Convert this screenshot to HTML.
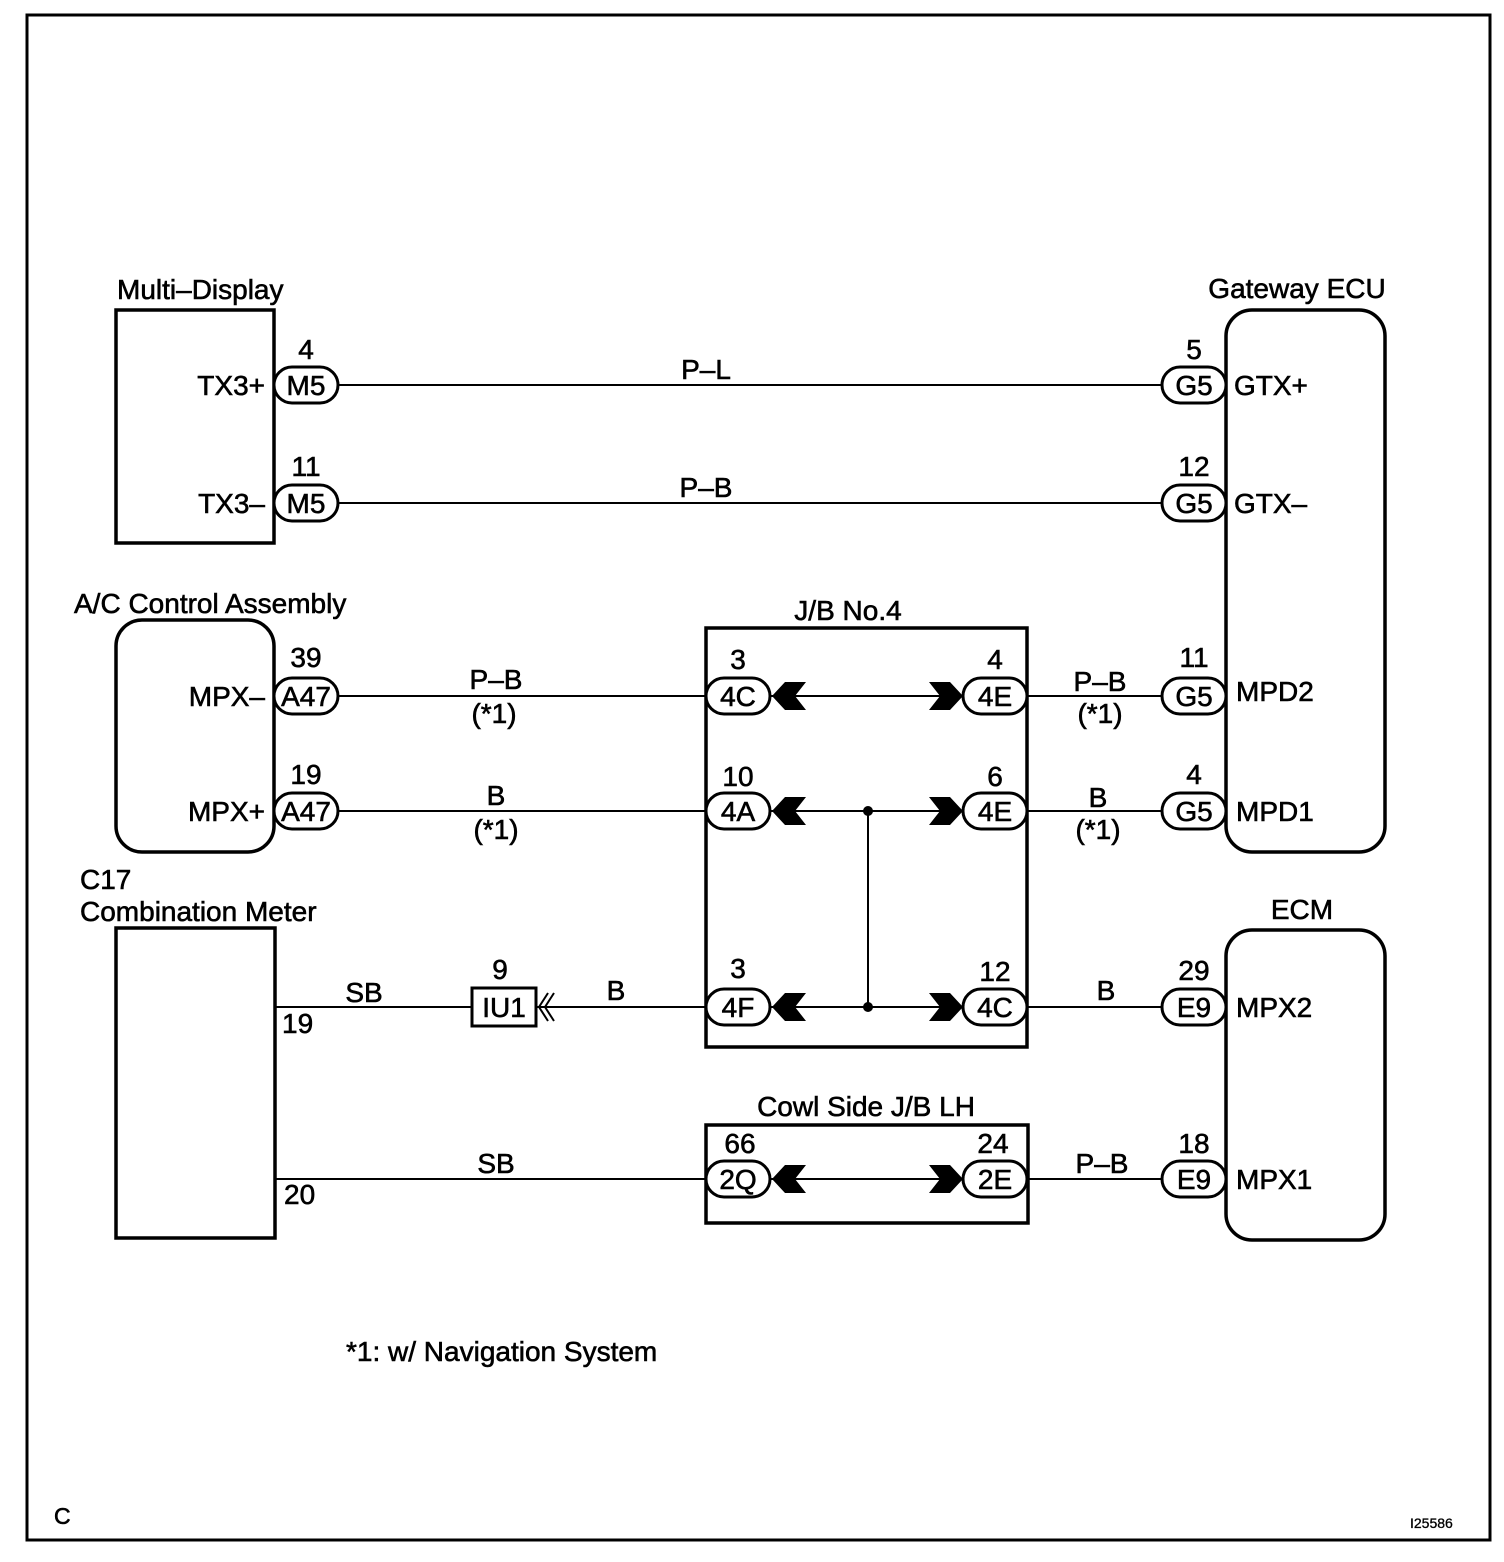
<!DOCTYPE html>
<html><head><style>
html,body{margin:0;padding:0;background:#fff;}
svg{display:block;}
text{font-family:"Liberation Sans",Arial,sans-serif;font-size:28px;fill:#000;stroke:#000;stroke-width:0.6;}
</style></head><body>
<svg width="1504" height="1562" viewBox="0 0 1504 1562" xmlns="http://www.w3.org/2000/svg">
<rect x="27" y="15" width="1463" height="1525" fill="none" stroke="#000" stroke-width="3"/>
<g fill="none" stroke="#000" stroke-width="3.5">
<rect x="116" y="310" width="158" height="233"/>
<rect x="116" y="620" width="158" height="232" rx="26"/>
<rect x="116" y="928" width="159" height="310"/>
<rect x="1226" y="310" width="159" height="542" rx="26"/>
<rect x="1226" y="930" width="159" height="310" rx="26"/>
<rect x="706" y="628" width="321" height="419"/>
<rect x="706" y="1125" width="322" height="98"/>
</g>
<g stroke="#000" stroke-width="2">
<line x1="338" y1="385" x2="1162" y2="385"/>
<line x1="338" y1="503" x2="1162" y2="503"/>
<line x1="338" y1="696" x2="706" y2="696"/>
<line x1="770" y1="696" x2="963" y2="696"/>
<line x1="1027" y1="696" x2="1162" y2="696"/>
<line x1="338" y1="811" x2="706" y2="811"/>
<line x1="770" y1="811" x2="963" y2="811"/>
<line x1="1027" y1="811" x2="1162" y2="811"/>
<line x1="275" y1="1007" x2="472" y2="1007"/>
<line x1="536" y1="1007" x2="706" y2="1007"/>
<line x1="770" y1="1007" x2="963" y2="1007"/>
<line x1="1027" y1="1007" x2="1162" y2="1007"/>
<line x1="275" y1="1179" x2="706" y2="1179"/>
<line x1="770" y1="1179" x2="963" y2="1179"/>
<line x1="1028" y1="1179" x2="1162" y2="1179"/>
<line x1="868" y1="811" x2="868" y2="1007"/>
</g>
<circle cx="868" cy="811" r="5"/><circle cx="868" cy="1007" r="5"/>
<g fill="#fff" stroke="#000" stroke-width="3">
<rect x="274" y="367" width="64" height="36" rx="18"/>
<rect x="274" y="485" width="64" height="36" rx="18"/>
<rect x="274" y="678" width="64" height="36" rx="18"/>
<rect x="274" y="793" width="64" height="36" rx="18"/>
<rect x="1162" y="367" width="64" height="36" rx="18"/>
<rect x="1162" y="485" width="64" height="36" rx="18"/>
<rect x="1162" y="678" width="64" height="36" rx="18"/>
<rect x="1162" y="793" width="64" height="36" rx="18"/>
<rect x="1162" y="989" width="64" height="36" rx="18"/>
<rect x="1162" y="1161" width="64" height="36" rx="18"/>
<rect x="706" y="678" width="64" height="36" rx="18"/>
<rect x="706" y="793" width="64" height="36" rx="18"/>
<rect x="706" y="989" width="64" height="36" rx="18"/>
<rect x="963" y="678" width="64" height="36" rx="18"/>
<rect x="963" y="793" width="64" height="36" rx="18"/>
<rect x="963" y="989" width="64" height="36" rx="18"/>
<rect x="706" y="1161" width="64" height="36" rx="18"/>
<rect x="963" y="1161" width="64" height="36" rx="18"/>
<rect x="472" y="988" width="64" height="38"/>
</g>
<g fill="#000">
<polygon points="772,696 785,682 806,682 795,696 806,710 785,710"/>
<polygon points="772,696 785,682 806,682 795,696 806,710 785,710" transform="translate(0,115)"/>
<polygon points="772,696 785,682 806,682 795,696 806,710 785,710" transform="translate(0,311)"/>
<polygon points="772,696 785,682 806,682 795,696 806,710 785,710" transform="translate(0,483)"/>
<polygon points="963,696 950,682 929,682 940,696 929,710 950,710"/>
<polygon points="963,696 950,682 929,682 940,696 929,710 950,710" transform="translate(0,115)"/>
<polygon points="963,696 950,682 929,682 940,696 929,710 950,710" transform="translate(0,311)"/>
<polygon points="963,696 950,682 929,682 940,696 929,710 950,710" transform="translate(0,483)"/>
</g>
<g fill="none" stroke="#000" stroke-width="2">
<polyline points="548,993 539,1007 548,1021"/>
<polyline points="554,993 545,1007 554,1021"/>
</g>
<g text-anchor="middle">
<text x="306" y="395">M5</text><text x="306" y="513">M5</text>
<text x="306" y="706">A47</text><text x="306" y="821">A47</text>
<text x="1194" y="395">G5</text><text x="1194" y="513">G5</text>
<text x="1194" y="706">G5</text><text x="1194" y="821">G5</text>
<text x="1194" y="1017">E9</text><text x="1194" y="1189">E9</text>
<text x="738" y="706">4C</text><text x="738" y="821">4A</text><text x="738" y="1017">4F</text>
<text x="995" y="706">4E</text><text x="995" y="821">4E</text><text x="995" y="1017">4C</text>
<text x="738" y="1189">2Q</text><text x="995" y="1189">2E</text>
<text x="504" y="1017">IU1</text>
<text x="306" y="359">4</text><text x="306" y="476">11</text>
<text x="306" y="667">39</text><text x="306" y="784">19</text>
<text x="1194" y="359">5</text><text x="1194" y="476">12</text>
<text x="1194" y="667">11</text><text x="1194" y="784">4</text>
<text x="1194" y="980">29</text><text x="1194" y="1153">18</text>
<text x="738" y="669">3</text><text x="738" y="786">10</text><text x="738" y="978">3</text>
<text x="995" y="669">4</text><text x="995" y="786">6</text><text x="995" y="981">12</text>
<text x="740" y="1153">66</text><text x="993" y="1153">24</text>
<text x="500" y="979">9</text>
<text x="706" y="379">P–L</text><text x="706" y="497">P–B</text>
<text x="496" y="689">P–B</text><text x="494" y="723">(*1)</text>
<text x="1100" y="691">P–B</text><text x="1100" y="723">(*1)</text>
<text x="496" y="805">B</text><text x="496" y="839">(*1)</text>
<text x="1098" y="807">B</text><text x="1098" y="839">(*1)</text>
<text x="364" y="1002">SB</text><text x="616" y="1000">B</text>
<text x="1106" y="1000">B</text>
<text x="496" y="1173">SB</text><text x="1102" y="1173">P–B</text>
<text x="848" y="620">J/B No.4</text>
<text x="866" y="1116">Cowl Side J/B LH</text>
<text x="1297" y="298">Gateway ECU</text>
<text x="1302" y="919">ECM</text>
</g>
<g text-anchor="end">
<text x="265" y="395">TX3+</text><text x="265" y="513">TX3–</text>
<text x="265" y="706">MPX–</text><text x="265" y="821">MPX+</text>
</g>
<text x="1234" y="395">GTX+</text><text x="1234" y="513">GTX–</text>
<text x="1236" y="701">MPD2</text><text x="1236" y="821">MPD1</text>
<text x="1236" y="1017">MPX2</text><text x="1236" y="1189">MPX1</text>
<text x="117" y="299">Multi–Display</text>
<text x="74" y="613">A/C Control Assembly</text>
<text x="80" y="889">C17</text>
<text x="80" y="921">Combination Meter</text>
<text x="282" y="1033">19</text><text x="284" y="1204">20</text>
<text x="346" y="1361">*1: w/ Navigation System</text>
<text x="54" y="1524" style="font-size:23px">C</text>
<text x="1410" y="1528" style="font-size:14px;stroke-width:0.3">I25586</text>
</svg>
</body></html>
